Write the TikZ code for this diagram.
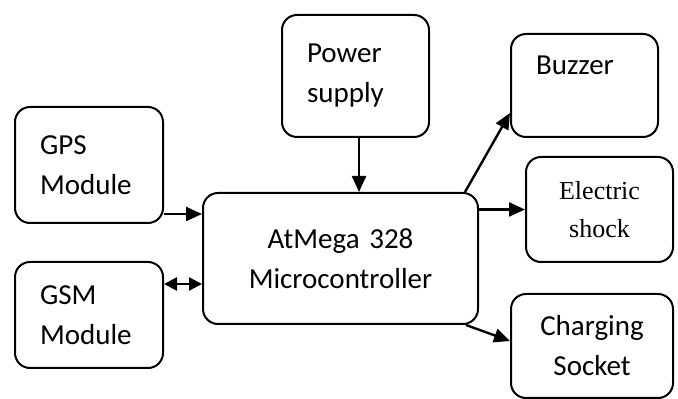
\documentclass[tikz,border=0pt]{standalone}
\usepackage{fontspec}
\setmainfont{Carlito}
\newfontfamily\timesfont{Liberation Serif}
\usepackage{tikz}
\usetikzlibrary{arrows.meta}

\tikzset{
	blk/.style={draw, line width=1pt, rounded corners=7.5pt, inner xsep=12.5pt, inner ysep=0pt,
		font=\fontsize{14.5}{20}\selectfont},
	arr/.style={line width=1.2pt, -{Triangle[length=8pt,width=7pt]}},
	darr/.style={line width=1.2pt, {Triangle[length=6.5pt,width=6.5pt]}-{Triangle[length=6.5pt,width=6.5pt]}},
}

\begin{document}
\begin{tikzpicture}[x=0.5pt, y=-0.5pt]
	\useasboundingbox (0,0) rectangle (678,399);
	
	% Blocks
	\node[blk, align=left, text width=48.5pt, minimum height=61pt] (power) at (355.5,76) {Power\\supply};
	\node[blk, align=left, text width=48.5pt, minimum height=51.5pt] (buzzer) at (584.5,85.5) {Buzzer\\\mbox{}};
	\node[blk, align=center, text width=48.5pt, minimum height=52.5pt,
		font=\timesfont\fontsize{13}{19}\selectfont] (shock) at (599.5,209.5) {Electric\\shock};
	\node[blk, align=left, text width=49pt, minimum height=58pt] (gps) at (89,165) {GPS\\Module};
	\node[blk, align=left, text width=49pt, minimum height=53pt] (gsm) at (89,315) {GSM\\Module};
	\node[blk, align=center, text width=112.5pt, minimum height=65.5pt] (mcu) at (340.5,258.5) {AtMega 328\\Microcontroller\\[-4pt]};
	\node[blk, align=center, text width=56pt, minimum height=52pt] (charge) at (592,346) {Charging\\Socket};
	
	% Connections
	\draw[arr] ([xshift=1.75pt]power.south) -- ([xshift=1.75pt]power.south |- mcu.north);
	\draw[arr] ([yshift=5pt]gps.south east) -- ([yshift=5pt]gps.south east -| mcu.west);
	\draw[darr] ([yshift=-11.5pt]gsm.north east) -- ([yshift=-11.5pt]gsm.north east -| mcu.west);
	\draw[arr] (mcu.east |- shock.west) -- (shock.west);
	\draw[arr] ([xshift=-7pt]mcu.north east) -- ([yshift=12.5pt]buzzer.south west);
	\draw[arr] ([xshift=-6.5pt]mcu.south east) -- ([yshift=-24pt]charge.north west);
	
\end{tikzpicture}
\end{document}
